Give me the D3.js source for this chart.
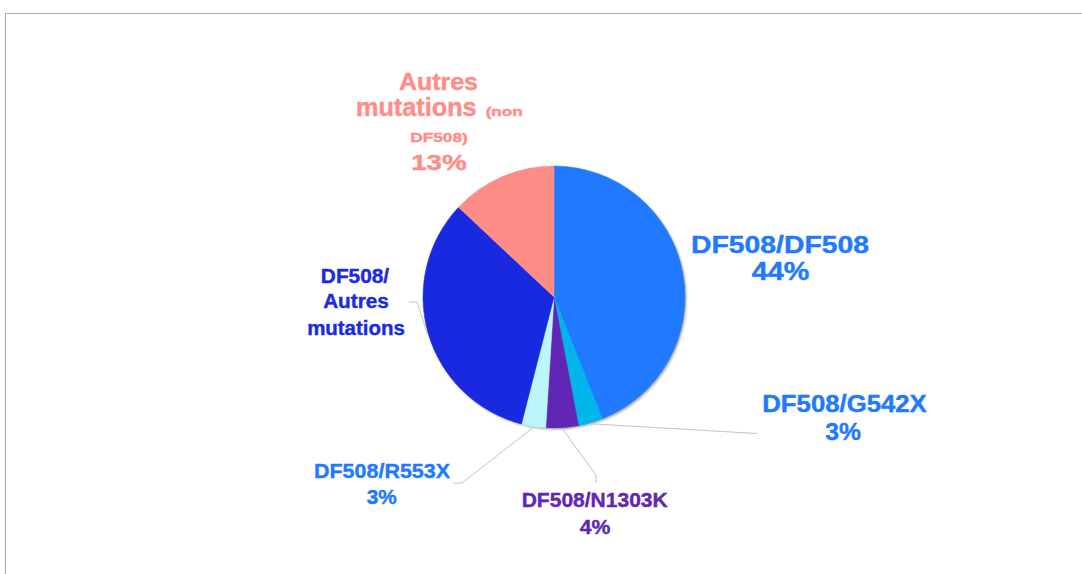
<!DOCTYPE html>
<html>
<head>
<meta charset="utf-8">
<script src="https://cdn.jsdelivr.net/npm/d3@7"></script>
<style>
  html, body { margin: 0; padding: 0; background: #fff; }
  svg { display: block; }
  text { font-family: "Liberation Sans", Arial, sans-serif; font-weight: bold; }
</style>
</head>
<body>
<script>
// slices, clockwise from 12 o'clock
const categories = ["DF508/DF508", "DF508/G542X", "DF508/N1303K", "DF508/R553X", "DF508/Autres mutations", "Autres mutations (non DF508)"];
const values = [44, 3, 4, 3, 33, 13];
// label text, "%" line is filled from values
const labelLines = [
  ["DF508/DF508", "%"],
  ["DF508/G542X", "%"],
  ["DF508/N1303K", "%"],
  ["DF508/R553X", "%"],
  ["DF508/", "Autres", "mutations"],
  ["Autres", "mutations", "(non", "DF508)", "%"]
];

const sliceColors = ["#2079fe", "#00b5ec", "#6126b5", "#bbf6fa", "#1829e0", "#fe8d88"];
const labelColors = ["#2079fe", "#2079fe", "#6126b5", "#2079fe", "#1a2be0", "#fe8d88"];

// per line: center x, baseline y, font size, width
const labelLayout = [
  [[780, 252.7, 24.5, 178], [780.5, 280, 25.5, 57.6]],
  [[844.5, 411.7, 23, 164.4], [843, 440, 24, 35.7]],
  [[594.7, 507.3, 20.5, 146], [595, 534, 20.5, 30.7]],
  [[382, 478.3, 21, 136], [381.7, 504, 19.5, 30]],
  [[355, 283.3, 19.5, 68.3], [356, 308.3, 19.5, 65.7], [356, 334.7, 19.5, 97.7]],
  [[438.5, 90, 23, 79], [416.3, 116, 25, 120.7], [504.2, 116, 13, 37], [439, 142.3, 13.5, 57.7], [439, 170, 22, 55.7]]
];
// leader line bends, from the pie edge out to the label
const leaderBends = [
  null,
  [[757, 433.5]],
  [[596, 475], [596, 483]],
  [[462, 483], [453, 483]],
  [[417, 302], [409, 302]],
  null
];

const width = 1082, height = 574;
const cx = 554, cy = 297, radius = 131;

const svg = d3.select("body").append("svg")
  .attr("width", width)
  .attr("height", height);

// frame lines
svg.append("line").attr("x1", 5.5).attr("x2", width).attr("y1", 13.5).attr("y2", 13.5)
  .attr("stroke", "#aaa").attr("stroke-width", 1);
svg.append("line").attr("x1", 5.5).attr("x2", 5.5).attr("y1", 13.5).attr("y2", height)
  .attr("stroke", "#aaa").attr("stroke-width", 1);

const defs = svg.append("defs");
defs.append("filter").attr("id", "blur")
  .append("feGaussianBlur").attr("stdDeviation", 1);

const pie = d3.pie().sort(null).value(d => d);
const arcs = pie(values);
const arc = d3.arc().innerRadius(0).outerRadius(radius);
const edge = d3.arc().innerRadius(radius + 1).outerRadius(radius + 1);

const g = svg.append("g").attr("transform", `translate(${cx},${cy})`);

// soft shadow under the pie
g.append("circle")
  .attr("cx", 1.5).attr("cy", 1.5).attr("r", radius)
  .attr("fill", "#aaa")
  .attr("filter", "url(#blur)");

g.selectAll(".slice")
  .data(arcs)
  .enter()
  .append("path")
  .attr("class", "slice")
  .attr("d", arc)
  .attr("fill", (d, i) => sliceColors[i])
  .attr("stroke", (d, i) => sliceColors[i])
  .attr("stroke-width", 0.5);

// leader lines
const line = d3.line();
arcs.forEach((d, i) => {
  if (!leaderBends[i]) return;
  const p = edge.centroid(d);
  const pts = [[p[0] + cx, p[1] + cy]].concat(leaderBends[i]);
  svg.append("path")
    .attr("d", line(pts))
    .attr("fill", "none")
    .attr("stroke", "#c4c4c4")
    .attr("stroke-width", 1);
});

// labels
labelLines.forEach((lines, i) => {
  lines.forEach((t, j) => {
    const [x, y, size, w] = labelLayout[i][j];
    const txt = t === "%" ? values[i] + "%" : t;
    svg.append("text")
      .attr("x", x)
      .attr("y", y)
      .attr("text-anchor", "middle")
      .attr("font-size", size)
      .attr("textLength", w)
      .attr("lengthAdjust", "spacingAndGlyphs")
      .attr("fill", labelColors[i])
      .attr("stroke", labelColors[i])
      .attr("stroke-width", 0.4)
      .text(txt);
  });
});
</script>
</body>
</html>
